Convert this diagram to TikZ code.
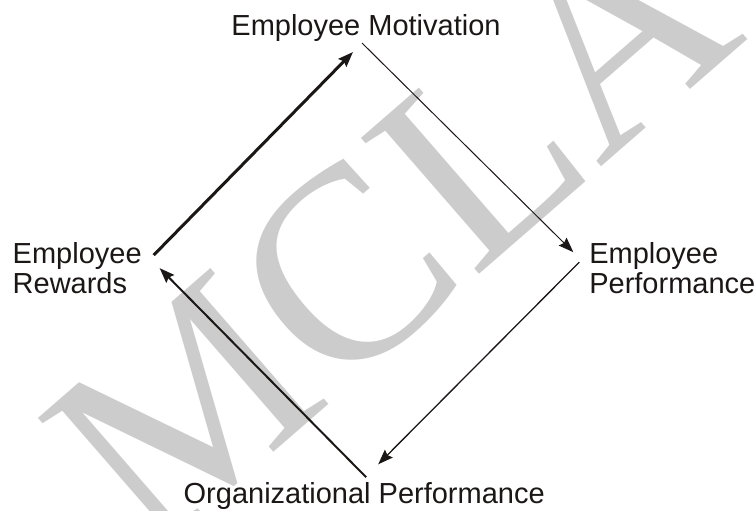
\documentclass[tikz,border=0pt]{standalone}
\usepackage{fontspec}
\setmainfont{Liberation Sans}
\newfontfamily\wmfont{Liberation Serif}
\usetikzlibrary{arrows.meta}
\definecolor{wmgray}{RGB}{204,204,204}
\definecolor{ink}{RGB}{26,23,22}
\begin{document}
\begin{tikzpicture}[x=1pt,y=-1pt,
  lbl/.style={inner sep=0pt, outer sep=0pt, text=ink, font=\fontsize{29}{30}\selectfont},
  conn/.style={draw=ink, -{Stealth[length=15pt,width=11pt,inset=2pt]}}]
\useasboundingbox (0,0) rectangle (756,511);
\begin{scope}
\clip (0,0) rectangle (756,511);
\node[rotate=41, anchor=base west, inner sep=0pt, text=wmgray, font=\wmfont\fontsize{275}{275}\selectfont] (wm) at (150,560) {MCLA};
\end{scope}
\node[lbl, anchor=base] (mot) at (366,36) {Employee Motivation};
\node[lbl, anchor=north west, align=left] (rew) at (12.7,242.5) {Employee\\Rewards};
\node[lbl, anchor=north west, align=left] (perf) at (589.3,242.5) {Employee\\Performance};
\node[lbl, anchor=base] (org) at (364.2,503.3) {Organizational Performance};
\draw[conn, line width=3pt] ([shift={(12,-13)}]rew.east) -- ([shift={(-13,10)}]mot.south);
\draw[conn, line width=1pt] ([shift={(-4,1)}]mot.south) -- ([shift={(-16,-16)}]perf.west);
\draw[conn, line width=1.3pt] ([shift={(-10,-6)}]perf.west) -- ([shift={(14,-18)}]org.north);
\draw[conn, line width=2pt] ([shift={(2,-5)}]org.north) -- ([shift={(18,0)}]rew.east);
\end{tikzpicture}
\end{document}
